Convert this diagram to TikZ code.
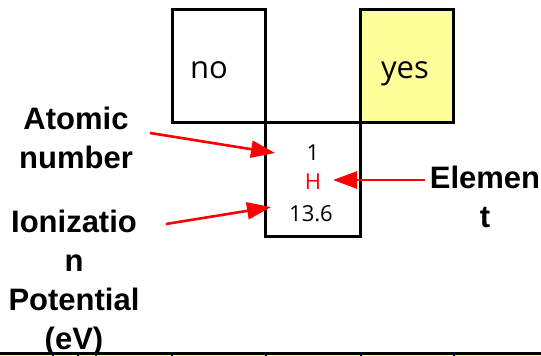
\documentclass[tikz,border=0pt]{standalone}
\usepackage{fontspec}
\setmainfont{Liberation Sans}
\newfontfamily\cellfont{Open Sans}
\usetikzlibrary{arrows.meta}
\definecolor{cellyellow}{HTML}{FFFF99}
\definecolor{arrowred}{HTML}{FF0000}
\begin{document}
\begin{tikzpicture}[x=1pt,y=-1pt,
  cell/.style={draw=black,line width=3pt,minimum width=93pt,minimum height=113pt,inner sep=0pt,outer sep=0pt,anchor=north west},
  celltext/.style={font=\cellfont\fontsize{31}{34}\selectfont,inner sep=0pt},
  datatext/.style={font=\cellfont\fontsize{22}{24}\selectfont,inner sep=0pt},
  labeltext/.style={font=\bfseries\fontsize{31}{39}\selectfont,align=center,inner sep=0pt},
  pointer/.style={draw=arrowred,line width=2.6pt,-{Triangle[length=24pt,width=17pt]}}]
\useasboundingbox (0,0) rectangle (541,356);
% periodic-table cells
\node[cell] (nocell) at (172,9) {};
\node[cell,fill=cellyellow] (yescell) at (360,9) {};
\node[cell,minimum width=95pt,minimum height=114pt] (hcell) at (265,122) {};
\draw[line width=3pt] (nocell.north east) -- (nocell.south east);
\node[celltext,anchor=base] (notext) at (209,78) {no};
\node[celltext,anchor=base] (yestext) at (405,78) {yes};
% cell contents
\node[datatext,anchor=base] (znum) at (313,160) {1};
\node[datatext,anchor=base,text=arrowred] (sym) at (313,189) {H};
\node[datatext,anchor=base] (ion) at (311,221) {13.6};
% side labels
\node[labeltext,anchor=north] (atomic) at (76,107) {Atomic\\number};
\node[labeltext,anchor=north] (ionlab) at (74,210) {Ionizatio\\n\\Potential\\(eV)};
\node[labeltext,anchor=north] (elem) at (485,166) {Elemen\\t};
% arrow ends
\coordinate (a1) at (150,133);
\coordinate (a2) at (275,153);
\coordinate (b1) at (166,224);
\coordinate (b2) at (271,207);
\coordinate (c1) at (425,180);
\coordinate (c2) at (333,180);
\draw[pointer] (a1) -- (a2);
\draw[pointer] (b1) -- (b2);
\draw[pointer] (c1) -- (c2);
% top edge of the next row
\coordinate (rowl) at (0,353);
\coordinate (rowr) at (541,353);
\fill[cellyellow] (0,354) rectangle (541,356);
\draw[line width=3pt] (rowl) -- (rowr);
\foreach \x in {53,78,96,172,266,361,454}
  \draw[line width=1.5pt] (\x,353) -- (\x,356);
\end{tikzpicture}
\end{document}
